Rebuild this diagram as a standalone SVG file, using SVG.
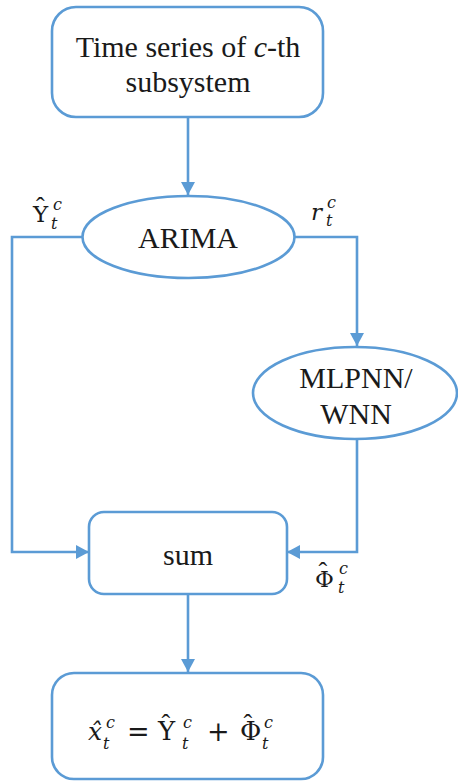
<svg xmlns="http://www.w3.org/2000/svg" width="458" height="782" viewBox="0 0 458 782">
<defs>
<style>
.box{fill:#ffffff;stroke:#5B9BD5;stroke-width:2.6}
.ln{fill:none;stroke:#5B9BD5;stroke-width:2.6}
.t{font-family:"Liberation Serif","Times New Roman",serif;font-size:30px;fill:#1a1a1a;text-anchor:middle}
.math{font-family:"DejaVu Serif","Liberation Serif",serif;fill:#1a1a1a}
.i{font-style:italic}
.h{font-family:"Liberation Serif",serif}
</style>
<marker id="ah" markerUnits="userSpaceOnUse" markerWidth="14" markerHeight="14" viewBox="0 0 14 14" refX="13" refY="7" orient="auto">
<path d="M0,0 L13,7 L0,14 Z" fill="#5B9BD5"/>
</marker>
</defs>
<rect width="458" height="782" fill="#ffffff"/>

<g id="connectors">
<line class="ln" x1="188" y1="117" x2="188" y2="195" marker-end="url(#ah)"/>
<polyline class="ln" points="83,237 12,237 12,552 89,552" marker-end="url(#ah)"/>
<polyline class="ln" points="294,237 357,237 357,346" marker-end="url(#ah)"/>
<polyline class="ln" points="357,439 357,552 287,552" marker-end="url(#ah)"/>
<line class="ln" x1="188" y1="594" x2="188" y2="672" marker-end="url(#ah)"/>
</g>

<g id="labels">
<text class="math"><tspan x="33" y="222" font-size="23">Υ</tspan><tspan class="h" x="36" y="215" font-size="26">ˆ</tspan><tspan class="i" x="53" y="210" font-size="16">c</tspan><tspan class="i" x="51" y="229" font-size="16">t</tspan></text>
<text class="math"><tspan class="i" x="311" y="220" font-size="23">r</tspan><tspan class="i" x="327" y="208" font-size="16">c</tspan><tspan class="i" x="326" y="226" font-size="16">t</tspan></text>
<text class="math"><tspan x="315" y="587" font-size="23">Φ</tspan><tspan class="h" x="318.5" y="580" font-size="26">ˆ</tspan><tspan class="i" x="339" y="574" font-size="16">c</tspan><tspan class="i" x="338" y="593" font-size="16">t</tspan></text>
</g>

<g id="n-input">
<rect class="box" x="52" y="7" width="271" height="110" rx="24"/>
<text class="t" x="188" y="57">Time series of <tspan font-style="italic">c</tspan>-th</text>
<text class="t" x="188" y="92">subsystem</text>
</g>

<g id="n-arima">
<ellipse class="box" cx="188.5" cy="237" rx="106" ry="41"/>
<text class="t" x="188" y="248">ARIMA</text>
</g>

<g id="n-nn">
<ellipse class="box" cx="355" cy="393" rx="102" ry="46"/>
<text class="t" x="356" y="388">MLPNN/</text>
<text class="t" x="356" y="424">WNN</text>
</g>

<g id="n-sum">
<rect class="box" x="89" y="512" width="198" height="82" rx="15"/>
<text class="t" x="188" y="565">sum</text>
</g>

<g id="n-output">
<rect class="box" x="52" y="673" width="271" height="106" rx="22"/>
<text class="math"><tspan class="i" x="88" y="740" font-size="25">x̂</tspan><tspan class="i" x="106" y="728" font-size="16">c</tspan><tspan class="i" x="103" y="749" font-size="16">t</tspan><tspan x="127" y="741" font-size="27">=</tspan><tspan x="158" y="740" font-size="26">Υ</tspan><tspan class="h" x="161.5" y="732" font-size="26">ˆ</tspan><tspan class="i" x="183" y="728" font-size="16">c</tspan><tspan class="i" x="182" y="749" font-size="16">t</tspan><tspan x="207" y="741" font-size="27">+</tspan><tspan x="240" y="740" font-size="26">Φ</tspan><tspan class="h" x="243.5" y="732" font-size="26">ˆ</tspan><tspan class="i" x="264" y="728" font-size="16">c</tspan><tspan class="i" x="262" y="749" font-size="16">t</tspan></text>
</g>
</svg>
